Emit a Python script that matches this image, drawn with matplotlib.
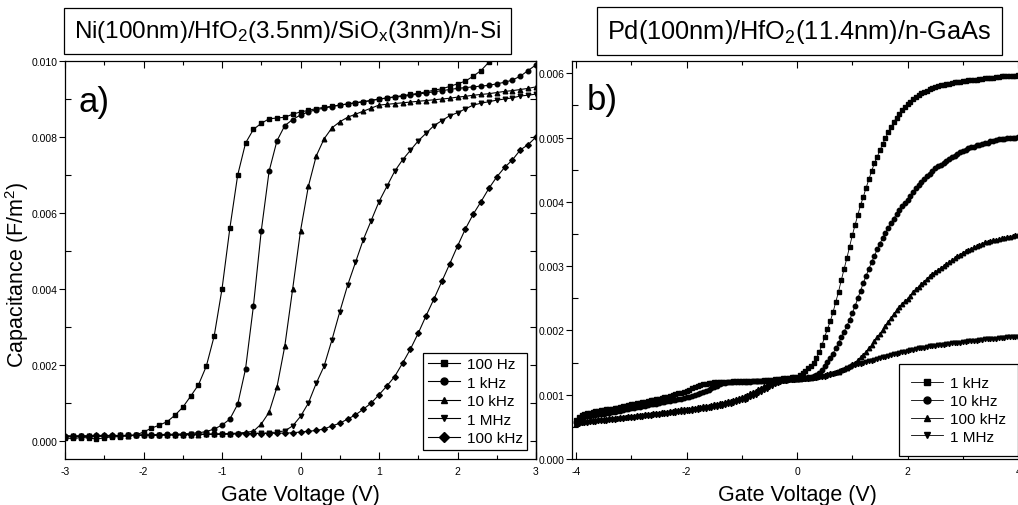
import numpy as np
import matplotlib
matplotlib.use('Agg')
import matplotlib.pyplot as plt
from matplotlib.ticker import MultipleLocator, FormatStrFormatter

plt.rcParams['font.family'] = ['Liberation Sans', 'DejaVu Sans']
plt.rcParams['mathtext.fontset'] = 'custom'
plt.rcParams['mathtext.rm'] = 'Liberation Sans'
plt.rcParams['mathtext.it'] = 'Liberation Sans:italic'
plt.rcParams['mathtext.default'] = 'regular'
plt.rcParams['axes.unicode_minus'] = False

# ---- panel a) Ni/HfO2/SiOx/n-Si, capacitance in F/m^2, 0.1 V steps ----
va = np.round(np.arange(-3.0, 3.001, 0.1), 1)

a_100hz = [0.00008, 0.00007, 0.00009, 0.00009, 0.00005, 0.00009, 0.00011, 0.00012, 0.00014, 0.00016,
           0.00024, 0.00034, 0.00042, 0.00051, 0.00068, 0.00089, 0.00118, 0.00148, 0.00197, 0.00276,
           0.0040, 0.0056, 0.0070, 0.00784, 0.0082, 0.00836, 0.00848, 0.0085, 0.00852, 0.0086,
           0.00866, 0.0087, 0.00875, 0.00878, 0.00881, 0.00884, 0.00887, 0.0089, 0.00893, 0.00896,
           0.0090, 0.00903, 0.00906, 0.00909, 0.00912, 0.00915, 0.00919, 0.00923, 0.00927, 0.00933,
           0.0094, 0.00947, 0.0096, 0.00975, 0.00997, 0.0102, 0.0104, 0.0106, 0.0108, 0.0110, 0.0112]
a_1khz = [0.00012, 0.00012, 0.00013, 0.00012, 0.00013, 0.00013, 0.00014, 0.00014, 0.00015, 0.00015,
          0.00016, 0.00016, 0.00017, 0.00018, 0.00018, 0.00019, 0.0002, 0.00022, 0.00025, 0.00032,
          0.00042, 0.00058, 0.00097, 0.0019, 0.00355, 0.00553, 0.0071, 0.0079, 0.0083, 0.00846,
          0.00858, 0.00866, 0.00872, 0.00876, 0.0088, 0.00884, 0.00887, 0.0089, 0.00893, 0.00896,
          0.0090, 0.00902, 0.00905, 0.00907, 0.0091, 0.00913, 0.00916, 0.00919, 0.00922, 0.00925,
          0.00928, 0.0093, 0.00932, 0.00934, 0.00936, 0.0094, 0.00944, 0.0095, 0.0096, 0.00975, 0.0099]
a_10khz = [0.00012, 0.00012, 0.00012, 0.00013, 0.00013, 0.00013, 0.00014, 0.00014, 0.00014, 0.00015,
           0.00015, 0.00015, 0.00016, 0.00016, 0.00016, 0.00017, 0.00017, 0.00017, 0.00018, 0.00018,
           0.00019, 0.0002, 0.00021, 0.00023, 0.00026, 0.00045, 0.00076, 0.00142, 0.0025, 0.0040,
           0.00553, 0.0067, 0.0075, 0.00795, 0.00824, 0.0084, 0.00852, 0.0086, 0.00868, 0.00876,
           0.00884, 0.00886, 0.00888, 0.0089, 0.00892, 0.00894, 0.00896, 0.00898, 0.0090, 0.00902,
           0.00905, 0.00907, 0.0091, 0.00912, 0.00914, 0.00917, 0.0092, 0.00922, 0.00925, 0.00928, 0.00932]
a_1mhz = [0.00012, 0.00013, 0.00013, 0.00013, 0.00014, 0.00014, 0.00014, 0.00015, 0.00015, 0.00015,
          0.00016, 0.00016, 0.00016, 0.00017, 0.00017, 0.00017, 0.00018, 0.00018, 0.00018, 0.00019,
          0.00019, 0.00019, 0.0002, 0.0002, 0.00021, 0.00021, 0.00022, 0.00024, 0.00027, 0.0004,
          0.00065, 0.0010, 0.00152, 0.00197, 0.00266, 0.0034, 0.0041, 0.0047, 0.0053, 0.0058,
          0.0063, 0.0067, 0.0071, 0.0074, 0.00765, 0.0079, 0.0081, 0.0083, 0.00843, 0.00856,
          0.00864, 0.00874, 0.00884, 0.00889, 0.00893, 0.00897, 0.0090, 0.00903, 0.00908, 0.0091, 0.00913]
a_100khz = [0.00014, 0.00014, 0.00014, 0.00014, 0.00015, 0.00015, 0.00015, 0.00015, 0.00015, 0.00016,
            0.00016, 0.00016, 0.00016, 0.00017, 0.00017, 0.00017, 0.00017, 0.00018, 0.00018, 0.00018,
            0.00018, 0.00019, 0.00019, 0.00019, 0.0002, 0.0002, 0.0002, 0.00021, 0.00021, 0.00022,
            0.00024, 0.00026, 0.00028, 0.00032, 0.0004, 0.00047, 0.00058, 0.00069, 0.00084, 0.0010,
            0.00122, 0.00145, 0.0017, 0.00205, 0.00242, 0.00284, 0.0033, 0.00374, 0.0042, 0.00466,
            0.00513, 0.00558, 0.00597, 0.0063, 0.00665, 0.00695, 0.0072, 0.0074, 0.00766, 0.0078, 0.0080]

labels_a = ['100 Hz', '1 kHz', '10 kHz', '1 MHz', '100 kHz']
markers_a = ['s', 'o', '^', 'v', 'D']

# ---- panel b) Pd/HfO2/n-GaAs, capacitance in 1e-3 F/m^2, 0.05 V steps ----
vb = np.round(np.arange(-4.0, 4.001, 0.05), 2)

b_1khz = [0.60, 0.65, 0.68, 0.70, 0.71, 0.72, 0.73, 0.74, 0.75, 0.755, 0.76, 0.77, 0.78, 0.785, 0.79, 0.80, 0.81, 0.82, 0.83, 0.84,
          0.85, 0.86, 0.865, 0.875, 0.88, 0.89, 0.90, 0.91, 0.92, 0.93, 0.94, 0.95, 0.96, 0.97, 0.98, 0.99, 1.01, 1.02, 1.03, 1.045,
          1.06, 1.08, 1.10, 1.115, 1.13, 1.145, 1.16, 1.17, 1.18, 1.185, 1.19, 1.195, 1.20, 1.20, 1.20, 1.205, 1.205, 1.21, 1.21, 1.21,
          1.21, 1.21, 1.215, 1.215, 1.215, 1.22, 1.22, 1.22, 1.225, 1.225, 1.23, 1.235, 1.24, 1.245, 1.25, 1.255, 1.26, 1.265, 1.27, 1.275,
          1.28, 1.30, 1.33, 1.37, 1.41, 1.45, 1.50, 1.57, 1.66, 1.77, 1.90, 2.02, 2.14, 2.28, 2.44, 2.60, 2.78, 2.95, 3.12, 3.30,
          3.48, 3.64, 3.80, 3.95, 4.08, 4.22, 4.35, 4.48, 4.60, 4.70, 4.80, 4.90, 4.99, 5.08, 5.16, 5.24, 5.31, 5.37, 5.43, 5.48,
          5.52, 5.56, 5.60, 5.63, 5.66, 5.69, 5.71, 5.73, 5.75, 5.77, 5.78, 5.80, 5.81, 5.82, 5.83, 5.84, 5.85, 5.86, 5.86, 5.87,
          5.88, 5.88, 5.89, 5.89, 5.90, 5.90, 5.91, 5.91, 5.92, 5.92, 5.93, 5.93, 5.94, 5.94, 5.95, 5.95, 5.95, 5.96, 5.96, 5.96,
          5.97]
b_10khz = [0.58, 0.62, 0.64, 0.655, 0.665, 0.675, 0.68, 0.69, 0.695, 0.70, 0.70, 0.71, 0.72, 0.73, 0.735, 0.745, 0.75, 0.76, 0.77, 0.78,
           0.79, 0.80, 0.81, 0.815, 0.825, 0.83, 0.84, 0.85, 0.855, 0.86, 0.87, 0.88, 0.885, 0.895, 0.90, 0.91, 0.92, 0.93, 0.94, 0.95,
           0.96, 0.97, 0.985, 1.00, 1.015, 1.03, 1.045, 1.06, 1.08, 1.10, 1.12, 1.14, 1.16, 1.175, 1.185, 1.19, 1.195, 1.20, 1.20, 1.20,
           1.20, 1.20, 1.205, 1.205, 1.21, 1.21, 1.21, 1.21, 1.215, 1.215, 1.215, 1.22, 1.22, 1.225, 1.23, 1.23, 1.235, 1.24, 1.245, 1.25,
           1.25, 1.255, 1.26, 1.265, 1.27, 1.28, 1.295, 1.31, 1.34, 1.39, 1.45, 1.51, 1.57, 1.64, 1.72, 1.80, 1.89, 1.98, 2.07, 2.16,
           2.27, 2.38, 2.50, 2.62, 2.74, 2.85, 2.96, 3.06, 3.16, 3.26, 3.35, 3.44, 3.52, 3.60, 3.67, 3.74, 3.81, 3.87, 3.93, 3.98,
           4.03, 4.09, 4.15, 4.21, 4.26, 4.31, 4.36, 4.40, 4.44, 4.48, 4.52, 4.55, 4.58, 4.61, 4.64, 4.67, 4.70, 4.72, 4.74, 4.77,
           4.79, 4.81, 4.83, 4.85, 4.86, 4.88, 4.89, 4.90, 4.91, 4.92, 4.94, 4.95, 4.96, 4.97, 4.97, 4.98, 4.99, 4.99, 5.00, 5.00,
           5.01]
b_100khz = [0.55, 0.57, 0.58, 0.59, 0.595, 0.60, 0.605, 0.61, 0.615, 0.62, 0.62, 0.625, 0.63, 0.635, 0.64, 0.645, 0.65, 0.655, 0.66, 0.665,
            0.67, 0.675, 0.68, 0.685, 0.69, 0.695, 0.70, 0.705, 0.71, 0.715, 0.72, 0.725, 0.73, 0.735, 0.74, 0.745, 0.755, 0.76, 0.77, 0.775,
            0.78, 0.785, 0.79, 0.80, 0.805, 0.81, 0.82, 0.825, 0.83, 0.84, 0.85, 0.86, 0.865, 0.875, 0.885, 0.895, 0.905, 0.92, 0.93, 0.945,
            0.96, 0.98, 1.00, 1.02, 1.04, 1.06, 1.085, 1.11, 1.13, 1.155, 1.175, 1.19, 1.20, 1.215, 1.225, 1.23, 1.235, 1.24, 1.245, 1.25,
            1.25, 1.25, 1.255, 1.255, 1.26, 1.265, 1.27, 1.28, 1.29, 1.30, 1.31, 1.32, 1.33, 1.34, 1.35, 1.36, 1.38, 1.40, 1.42, 1.45,
            1.47, 1.50, 1.54, 1.58, 1.62, 1.67, 1.72, 1.77, 1.83, 1.89, 1.95, 2.01, 2.07, 2.13, 2.19, 2.25, 2.31, 2.36, 2.41, 2.45,
            2.49, 2.54, 2.59, 2.64, 2.68, 2.72, 2.76, 2.80, 2.84, 2.88, 2.91, 2.94, 2.97, 3.00, 3.03, 3.06, 3.09, 3.12, 3.15, 3.18,
            3.21, 3.23, 3.25, 3.27, 3.29, 3.31, 3.33, 3.35, 3.37, 3.38, 3.39, 3.40, 3.41, 3.42, 3.43, 3.44, 3.45, 3.46, 3.47, 3.48,
            3.49]
b_1mhz = [0.53, 0.545, 0.555, 0.56, 0.565, 0.57, 0.575, 0.58, 0.585, 0.59, 0.59, 0.595, 0.60, 0.605, 0.61, 0.615, 0.62, 0.625, 0.63, 0.635,
          0.64, 0.645, 0.65, 0.655, 0.66, 0.665, 0.67, 0.675, 0.68, 0.685, 0.69, 0.695, 0.70, 0.705, 0.71, 0.715, 0.72, 0.725, 0.73, 0.735,
          0.74, 0.745, 0.75, 0.76, 0.765, 0.77, 0.78, 0.785, 0.79, 0.80, 0.81, 0.815, 0.825, 0.83, 0.84, 0.85, 0.86, 0.87, 0.88, 0.895,
          0.91, 0.925, 0.94, 0.96, 0.98, 1.00, 1.02, 1.045, 1.07, 1.095, 1.12, 1.14, 1.16, 1.18, 1.195, 1.21, 1.22, 1.225, 1.23, 1.235,
          1.24, 1.24, 1.245, 1.25, 1.25, 1.255, 1.26, 1.265, 1.27, 1.275, 1.28, 1.29, 1.30, 1.32, 1.33, 1.35, 1.37, 1.39, 1.41, 1.43,
          1.45, 1.46, 1.47, 1.48, 1.49, 1.51, 1.52, 1.53, 1.54, 1.55, 1.57, 1.58, 1.59, 1.60, 1.61, 1.63, 1.64, 1.65, 1.66, 1.67,
          1.68, 1.69, 1.70, 1.71, 1.72, 1.72, 1.73, 1.74, 1.75, 1.75, 1.76, 1.77, 1.77, 1.78, 1.79, 1.79, 1.80, 1.80, 1.81, 1.81,
          1.82, 1.82, 1.83, 1.83, 1.84, 1.84, 1.85, 1.85, 1.86, 1.86, 1.87, 1.87, 1.87, 1.88, 1.88, 1.88, 1.89, 1.89, 1.89, 1.90,
          1.90]

labels_b = ['1 kHz', '10 kHz', '100 kHz', '1 MHz']
markers_b = ['s', 'o', '^', 'v']

W, H = 1018, 506
fig = plt.figure(figsize=(W / 100, H / 100), dpi=100)


def px_axes(x0, y0, x1, y1):
    # pixel box (left, top, right, bottom) -> figure fraction axes
    return fig.add_axes([x0 / W, 1 - y1 / H, (x1 - x0) / W, (y1 - y0) / H])


def style_ticks(ax):
    ax.tick_params(axis='x', which='both', direction='in', top=True, bottom=True,
                   labelsize=7.5, width=0.8, pad=5)
    ax.tick_params(axis='x', which='major', length=5)
    ax.tick_params(axis='x', which='minor', length=3)
    ax.tick_params(axis='y', which='major', direction='out', length=4, width=0.8,
                   labelsize=7.5, pad=1.5)
    ax.tick_params(axis='y', which='minor', direction='in', length=4, width=0.8)
    for s in ax.spines.values():
        s.set_linewidth(0.9)


def boxed_legend(ax, anchor, pad, spacing):
    leg = ax.legend(loc='lower left', bbox_to_anchor=anchor, fontsize=11,
                    frameon=True, fancybox=False, edgecolor='black', framealpha=1,
                    handlelength=2.1, handletextpad=0.45, borderpad=pad,
                    labelspacing=spacing, borderaxespad=0)
    leg.get_frame().set_linewidth(0.9)
    for h in leg.legend_handles:
        h.set_markersize(5)
    return leg


# ---------------- a) ----------------
ax1 = px_axes(65, 62, 536, 460)
for y, lab, m in zip([a_100hz, a_1khz, a_10khz, a_1mhz, a_100khz], labels_a, markers_a):
    ax1.plot(va, y, color='black', lw=0.8, marker=m, ms=3.3 if m != 'D' else 2.9,
             mec='black', mfc='black', label=lab)
ax1.set_xlim(-3, 3)
ax1.set_ylim(-0.00047, 0.010)
ax1.xaxis.set_major_locator(MultipleLocator(1))
ax1.xaxis.set_minor_locator(MultipleLocator(0.5))
ax1.yaxis.set_major_locator(MultipleLocator(0.002))
ax1.yaxis.set_minor_locator(MultipleLocator(0.001))
ax1.yaxis.set_major_formatter(FormatStrFormatter('%.3f'))
style_ticks(ax1)
sec1 = ax1.secondary_yaxis('right')
sec1.yaxis.set_major_locator(MultipleLocator(0.001))
sec1.tick_params(which='major', direction='in', length=4, width=0.8, labelright=False)
sec1.spines['right'].set_linewidth(0.9)

ax1.set_xlabel('Gate Voltage (V)', fontsize=15.5, va='top')
ax1.xaxis.set_label_coords(0.5, -0.062)
ax1.set_ylabel(r'Capacitance (F/m$^2$)', fontsize=15.5)
ax1.yaxis.set_label_coords(-0.072, 0.465)
ax1.text(0.028, 0.874, 'a)', transform=ax1.transAxes, fontsize=25, va='baseline')
boxed_legend(ax1, ((423 - 65) / 471, (460 - 451) / 398), 0.3, 0.3)

# ---------------- b) ----------------
ax2 = px_axes(572, 62, 1021, 460)
for y, lab, m in zip([b_1khz, b_10khz, b_100khz, b_1mhz], labels_b, markers_b):
    ax2.plot(vb, np.array(y) * 1e-3, color='black', lw=0.6, marker=m, ms=3.2,
             mec='black', mfc='black', label=lab)
ax2.set_xlim(-4.072, 4.052)
ax2.set_ylim(0, 0.00619)
ax2.xaxis.set_major_locator(MultipleLocator(2))
ax2.xaxis.set_minor_locator(MultipleLocator(1))
ax2.yaxis.set_major_locator(MultipleLocator(0.001))
ax2.yaxis.set_minor_locator(MultipleLocator(0.0005))
ax2.yaxis.set_major_formatter(FormatStrFormatter('%.3f'))
style_ticks(ax2)
ax2.spines['right'].set_visible(False)

ax2.set_xlabel('Gate Voltage (V)', fontsize=15.5, va='top')
ax2.xaxis.set_label_coords(0.501, -0.062)
ax2.text(0.033, 0.879, 'b)', transform=ax2.transAxes, fontsize=25, va='baseline')
boxed_legend(ax2, ((899 - 572) / 449, (460 - 457) / 398), 0.8, 0.25)

# ---------------- boxed titles ----------------
box = dict(boxstyle='square,pad=0.4', fc='white', ec='black', lw=0.9)
fig.text(287.5 / W, 1 - 32 / H, r'Ni(100nm)/HfO$_2$(3.5nm)/SiO$_x$(3nm)/n-Si',
         fontsize=17.5, ha='center', va='center', bbox=box)
fig.text(799.5 / W, 1 - 32 / H, r'Pd(100nm)/HfO$_2$(11.4nm)/n-GaAs',
         fontsize=18.3, ha='center', va='center', bbox=box)

fig.savefig('out.png', dpi=100)
